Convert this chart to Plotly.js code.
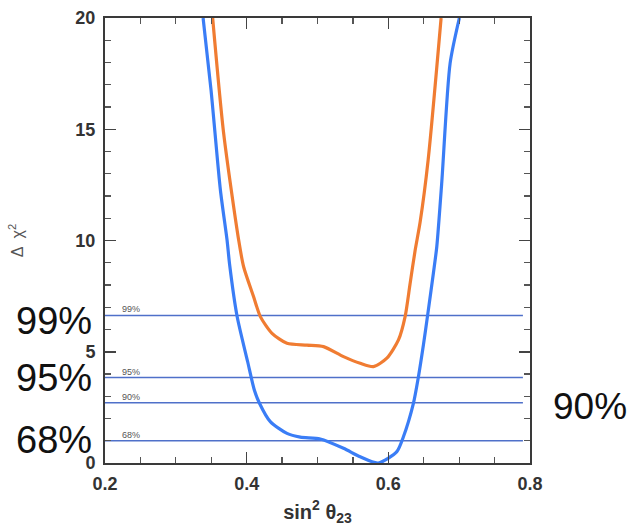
<!DOCTYPE html>
<html>
<head>
<meta charset="utf-8">
<script src="https://cdn.plot.ly/plotly-3.0.1.min.js"></script>
<style>html,body{margin:0;padding:0;background:#fff;}#chart{width:630px;height:531px;}</style>
</head>
<body>
<div id="chart"></div>
<script>
// Blue Δχ² curve
const blueX = [0.3385, 0.3497, 0.3629, 0.3723, 0.3760, 0.3864, 0.4014, 0.4108, 0.4179, 0.4334, 0.4569, 0.4757, 0.5039, 0.5367, 0.5603, 0.5857, 0.6120, 0.6213, 0.6354, 0.6425, 0.6495, 0.6552, 0.6636, 0.6684, 0.6755, 0.6872, 0.7003];
const blueY = [20.0, 16.76, 12.27, 10.02, 8.90, 6.61, 4.55, 3.28, 2.70, 1.86, 1.33, 1.16, 1.08, 0.66, 0.28, 0.0, 0.51, 1.18, 2.68, 3.88, 5.30, 6.58, 8.53, 9.72, 12.64, 17.96, 20.0];
// Orange Δχ² curve
const orangeX = [0.3520, 0.3675, 0.3887, 0.3957, 0.4098, 0.4193, 0.4358, 0.4569, 0.4851, 0.5085, 0.5367, 0.5603, 0.5790, 0.5979, 0.6143, 0.6237, 0.6308, 0.6379, 0.6449, 0.6562, 0.6745];
const orangeY = [20.0, 14.82, 10.02, 8.82, 7.47, 6.58, 5.83, 5.38, 5.30, 5.23, 4.78, 4.48, 4.33, 4.71, 5.53, 6.58, 8.08, 9.57, 10.83, 13.62, 20.0];
// Confidence-level thresholds
const clLabels = ["99%", "95%", "90%", "68%"];
const clValues = [6.63, 3.84, 2.71, 1.0];
const clXStart = 0.2, clXEnd = 0.79;
// Axis ticks
const xTicks = [0.2, 0.4, 0.6, 0.8];
const xTickText = ["0.2", "0.4", "0.6", "0.8"];
const yTicks = [0, 5, 10, 15, 20];
const yTickText = ["0", "5", "10", "15", "20"];
// Large side labels
const bigLeftLabels = ["99%", "95%", "68%"];
const bigRightLabels = ["90%"];

const lineColor = "#4f70c9";
const traces = [];
clValues.forEach((v, i) => {
  traces.push({x: [clXStart, clXEnd], y: [v, v], mode: "lines", type: "scatter",
    line: {color: lineColor, width: 1.4}, hoverinfo: "skip", showlegend: false, name: clLabels[i]});
});
traces.push({x: orangeX, y: orangeY, mode: "lines", type: "scatter", name: "orange",
  line: {color: "#f07c32", width: 3.2, shape: "spline", smoothing: 0.7}, showlegend: false});
traces.push({x: blueX, y: blueY, mode: "lines", type: "scatter", name: "blue",
  line: {color: "#3a7df6", width: 3.2, shape: "spline", smoothing: 0.7}, showlegend: false});

const annotations = [];
clValues.forEach((v, i) => {
  annotations.push({x: 0.2374, y: v, xref: "x", yref: "y", text: clLabels[i], showarrow: false,
    yanchor: "bottom", yshift: -1, font: {family: "Liberation Sans, Arial", size: 9, color: "#555"}});
});
// pixel centres of big labels -> paper coordinates
const bigLeftY = [321, 378, 440];
bigLeftLabels.forEach((t, i) => {
  annotations.push({x: (93 - 104.5) / 425.5, y: (463 - bigLeftY[i]) / 445, xref: "paper", yref: "paper",
    xanchor: "right", yanchor: "middle", text: t, showarrow: false,
    font: {family: "Liberation Sans, Arial", size: 38, color: "#111"}});
});
annotations.push({x: (551 - 104.5) / 425.5, y: (463 - 406) / 445, xref: "paper", yref: "paper",
  xanchor: "left", yanchor: "middle", text: bigRightLabels[0], showarrow: false,
  font: {family: "Liberation Sans, Arial", size: 37, color: "#111"}});

const tickFont = {family: "Liberation Sans, Arial", size: 18, color: "#333", weight: "bold"};
const axisCommon = {
  showgrid: false, zeroline: false, showline: true, linecolor: "#3a3a3a", linewidth: 2,
  mirror: "allticks", ticks: "inside", ticklen: 11, tickwidth: 1.5, tickcolor: "#444",
  tickfont: tickFont, fixedrange: true
};

const layout = {
  width: 630, height: 531,
  margin: {l: 104.5, r: 100, t: 18, b: 68, pad: 0},
  paper_bgcolor: "#fff", plot_bgcolor: "#fff",
  showlegend: false,
  xaxis: Object.assign({}, axisCommon, {
    range: [0.2, 0.8], tickvals: xTicks, ticktext: xTickText, ticklabelstandoff: 3,
    minor: {dtick: (xTicks[1] - xTicks[0]) / 4, ticks: "inside", ticklen: 6, tickcolor: "#555", tickwidth: 1.2},
    title: {text: "<b>sin<sup>2</sup> θ<sub>23</sub></b>", standoff: 12,
      font: {family: "Liberation Sans, Arial", size: 20, color: "#333"}}
  }),
  yaxis: Object.assign({}, axisCommon, {
    range: [0, 20], tickvals: yTicks, ticktext: yTickText, ticklabelstandoff: 4,
    minor: {dtick: (yTicks[1] - yTicks[0]) / 5, ticks: "inside", ticklen: 6, tickcolor: "#555", tickwidth: 1.2},
    title: {text: "Δ  χ<sup>2</sup>", standoff: 48,
      font: {family: "Liberation Sans, Arial", size: 16, color: "#555"}}
  }),
  annotations: annotations
};

Plotly.newPlot("chart", traces, layout, {displayModeBar: false, staticPlot: true});
</script>
</body>
</html>
